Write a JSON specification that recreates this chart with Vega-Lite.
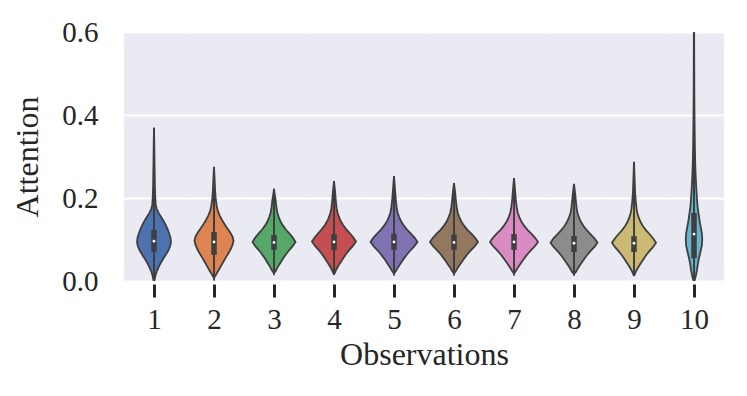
{
  "$schema": "https://vega.github.io/schema/vega-lite/v6.json",
  "padding": {"left": 11, "top": 18, "right": 20, "bottom": 5},
  "background": "white",
  "bounds": "flush",
  "config": {
    "font": "Liberation Serif",
    "view": {"fill": "#EAEAF2", "stroke": null},
    "concat": {"spacing": 0},
    "axis": {"labelFont": "Liberation Serif", "titleFont": "Liberation Serif", "labelColor": "#262626", "titleColor": "#262626", "titleFontWeight": "normal"},
    "rule": {"color": "#3f3f3f"},
    "point": {"filled": true, "color": "white", "size": 8, "opacity": 1, "strokeWidth": 0}
  },
  "data": {"values": [
    {"g":1,"k":"d","v":-0.003,"w":0},{"g":1,"k":"d","v":0.004,"w":0.7},{"g":1,"k":"d","v":0.014,"w":1.55},{"g":1,"k":"d","v":0.024,"w":2.9},{"g":1,"k":"d","v":0.034,"w":4.75},{"g":1,"k":"d","v":0.044,"w":6.8},{"g":1,"k":"d","v":0.054,"w":9.35},{"g":1,"k":"d","v":0.064,"w":11.9},{"g":1,"k":"d","v":0.074,"w":14.45},{"g":1,"k":"d","v":0.084,"w":16.15},{"g":1,"k":"d","v":0.094,"w":17},{"g":1,"k":"d","v":0.104,"w":16.5},{"g":1,"k":"d","v":0.114,"w":15.3},{"g":1,"k":"d","v":0.124,"w":13.75},{"g":1,"k":"d","v":0.134,"w":11.9},{"g":1,"k":"d","v":0.144,"w":9.7},{"g":1,"k":"d","v":0.154,"w":7.15},{"g":1,"k":"d","v":0.164,"w":4.6},{"g":1,"k":"d","v":0.174,"w":2.7},{"g":1,"k":"d","v":0.184,"w":1.7},{"g":1,"k":"d","v":0.204,"w":1.2},{"g":1,"k":"d","v":0.234,"w":0.85},{"g":1,"k":"d","v":0.29,"w":0.5},{"g":1,"k":"d","v":0.33,"w":0.3},{"g":1,"k":"d","v":0.369,"w":0},
    {"g":2,"k":"d","v":0.007,"w":0},{"g":2,"k":"d","v":0.017,"w":2.35},{"g":2,"k":"d","v":0.027,"w":4.9},{"g":2,"k":"d","v":0.037,"w":7.2},{"g":2,"k":"d","v":0.047,"w":9.55},{"g":2,"k":"d","v":0.057,"w":11.9},{"g":2,"k":"d","v":0.067,"w":14.45},{"g":2,"k":"d","v":0.077,"w":16.75},{"g":2,"k":"d","v":0.087,"w":18.5},{"g":2,"k":"d","v":0.097,"w":19.5},{"g":2,"k":"d","v":0.107,"w":18.5},{"g":2,"k":"d","v":0.117,"w":16.2},{"g":2,"k":"d","v":0.127,"w":13.25},{"g":2,"k":"d","v":0.137,"w":10.55},{"g":2,"k":"d","v":0.147,"w":8},{"g":2,"k":"d","v":0.157,"w":5.85},{"g":2,"k":"d","v":0.167,"w":4.1},{"g":2,"k":"d","v":0.177,"w":2.95},{"g":2,"k":"d","v":0.197,"w":1.75},{"g":2,"k":"d","v":0.217,"w":1.15},{"g":2,"k":"d","v":0.247,"w":0.6},{"g":2,"k":"d","v":0.275,"w":0},
    {"g":3,"k":"d","v":0.019,"w":0},{"g":3,"k":"d","v":0.024,"w":1.7},{"g":3,"k":"d","v":0.034,"w":3.85},{"g":3,"k":"d","v":0.044,"w":6.45},{"g":3,"k":"d","v":0.054,"w":9.05},{"g":3,"k":"d","v":0.064,"w":11.85},{"g":3,"k":"d","v":0.074,"w":15.05},{"g":3,"k":"d","v":0.084,"w":18.7},{"g":3,"k":"d","v":0.094,"w":21.5},{"g":3,"k":"d","v":0.104,"w":18.9},{"g":3,"k":"d","v":0.114,"w":15.5},{"g":3,"k":"d","v":0.124,"w":11.85},{"g":3,"k":"d","v":0.134,"w":8.8},{"g":3,"k":"d","v":0.144,"w":6.45},{"g":3,"k":"d","v":0.154,"w":4.75},{"g":3,"k":"d","v":0.164,"w":3.45},{"g":3,"k":"d","v":0.174,"w":2.6},{"g":3,"k":"d","v":0.194,"w":1.7},{"g":3,"k":"d","v":0.21,"w":0.65},{"g":3,"k":"d","v":0.222,"w":0},
    {"g":4,"k":"d","v":0.015,"w":0},{"g":4,"k":"d","v":0.025,"w":1.75},{"g":4,"k":"d","v":0.035,"w":3.95},{"g":4,"k":"d","v":0.045,"w":6.6},{"g":4,"k":"d","v":0.055,"w":9.25},{"g":4,"k":"d","v":0.065,"w":12.1},{"g":4,"k":"d","v":0.075,"w":15.4},{"g":4,"k":"d","v":0.085,"w":19.15},{"g":4,"k":"d","v":0.095,"w":22},{"g":4,"k":"d","v":0.105,"w":19.35},{"g":4,"k":"d","v":0.115,"w":15.85},{"g":4,"k":"d","v":0.125,"w":12.1},{"g":4,"k":"d","v":0.135,"w":9},{"g":4,"k":"d","v":0.145,"w":6.6},{"g":4,"k":"d","v":0.155,"w":4.85},{"g":4,"k":"d","v":0.165,"w":3.5},{"g":4,"k":"d","v":0.175,"w":2.65},{"g":4,"k":"d","v":0.195,"w":1.75},{"g":4,"k":"d","v":0.215,"w":1.1},{"g":4,"k":"d","v":0.228,"w":0.55},{"g":4,"k":"d","v":0.241,"w":0},
    {"g":5,"k":"d","v":0.018,"w":0},{"g":5,"k":"d","v":0.024,"w":1.9},{"g":5,"k":"d","v":0.034,"w":4.25},{"g":5,"k":"d","v":0.044,"w":7.05},{"g":5,"k":"d","v":0.054,"w":9.85},{"g":5,"k":"d","v":0.064,"w":12.95},{"g":5,"k":"d","v":0.074,"w":16.45},{"g":5,"k":"d","v":0.084,"w":20.45},{"g":5,"k":"d","v":0.094,"w":23.5},{"g":5,"k":"d","v":0.104,"w":20.7},{"g":5,"k":"d","v":0.114,"w":16.9},{"g":5,"k":"d","v":0.124,"w":12.95},{"g":5,"k":"d","v":0.134,"w":9.65},{"g":5,"k":"d","v":0.144,"w":7.05},{"g":5,"k":"d","v":0.154,"w":5.15},{"g":5,"k":"d","v":0.164,"w":3.75},{"g":5,"k":"d","v":0.174,"w":2.8},{"g":5,"k":"d","v":0.194,"w":1.9},{"g":5,"k":"d","v":0.214,"w":1.2},{"g":5,"k":"d","v":0.235,"w":0.6},{"g":5,"k":"d","v":0.253,"w":0},
    {"g":6,"k":"d","v":0.018,"w":0},{"g":6,"k":"d","v":0.024,"w":1.9},{"g":6,"k":"d","v":0.034,"w":4.3},{"g":6,"k":"d","v":0.044,"w":7.2},{"g":6,"k":"d","v":0.054,"w":10.1},{"g":6,"k":"d","v":0.064,"w":13.2},{"g":6,"k":"d","v":0.074,"w":16.8},{"g":6,"k":"d","v":0.084,"w":20.9},{"g":6,"k":"d","v":0.094,"w":24},{"g":6,"k":"d","v":0.104,"w":21.1},{"g":6,"k":"d","v":0.114,"w":17.3},{"g":6,"k":"d","v":0.124,"w":13.2},{"g":6,"k":"d","v":0.134,"w":9.85},{"g":6,"k":"d","v":0.144,"w":7.2},{"g":6,"k":"d","v":0.154,"w":5.3},{"g":6,"k":"d","v":0.164,"w":3.85},{"g":6,"k":"d","v":0.174,"w":2.9},{"g":6,"k":"d","v":0.194,"w":1.9},{"g":6,"k":"d","v":0.214,"w":1.1},{"g":6,"k":"d","v":0.236,"w":0},
    {"g":7,"k":"d","v":0.018,"w":0},{"g":7,"k":"d","v":0.024,"w":1.9},{"g":7,"k":"d","v":0.034,"w":4.3},{"g":7,"k":"d","v":0.044,"w":7.2},{"g":7,"k":"d","v":0.054,"w":10.1},{"g":7,"k":"d","v":0.064,"w":13.2},{"g":7,"k":"d","v":0.074,"w":16.8},{"g":7,"k":"d","v":0.084,"w":20.9},{"g":7,"k":"d","v":0.094,"w":24},{"g":7,"k":"d","v":0.104,"w":21.1},{"g":7,"k":"d","v":0.114,"w":17.3},{"g":7,"k":"d","v":0.124,"w":13.2},{"g":7,"k":"d","v":0.134,"w":9.85},{"g":7,"k":"d","v":0.144,"w":7.2},{"g":7,"k":"d","v":0.154,"w":5.3},{"g":7,"k":"d","v":0.164,"w":3.85},{"g":7,"k":"d","v":0.174,"w":2.9},{"g":7,"k":"d","v":0.194,"w":1.9},{"g":7,"k":"d","v":0.214,"w":1.2},{"g":7,"k":"d","v":0.232,"w":0.6},{"g":7,"k":"d","v":0.248,"w":0},
    {"g":8,"k":"d","v":0.017,"w":0},{"g":8,"k":"d","v":0.022,"w":1.9},{"g":8,"k":"d","v":0.032,"w":4.25},{"g":8,"k":"d","v":0.042,"w":7.05},{"g":8,"k":"d","v":0.052,"w":9.85},{"g":8,"k":"d","v":0.062,"w":12.95},{"g":8,"k":"d","v":0.072,"w":16.45},{"g":8,"k":"d","v":0.082,"w":20.45},{"g":8,"k":"d","v":0.092,"w":23.5},{"g":8,"k":"d","v":0.102,"w":20.7},{"g":8,"k":"d","v":0.112,"w":16.9},{"g":8,"k":"d","v":0.122,"w":12.95},{"g":8,"k":"d","v":0.132,"w":9.65},{"g":8,"k":"d","v":0.142,"w":7.05},{"g":8,"k":"d","v":0.152,"w":5.15},{"g":8,"k":"d","v":0.162,"w":3.75},{"g":8,"k":"d","v":0.172,"w":2.8},{"g":8,"k":"d","v":0.192,"w":1.9},{"g":8,"k":"d","v":0.212,"w":1.1},{"g":8,"k":"d","v":0.234,"w":0},
    {"g":9,"k":"d","v":0.012,"w":0},{"g":9,"k":"d","v":0.022,"w":1.75},{"g":9,"k":"d","v":0.032,"w":3.95},{"g":9,"k":"d","v":0.042,"w":6.6},{"g":9,"k":"d","v":0.052,"w":9.25},{"g":9,"k":"d","v":0.062,"w":12.1},{"g":9,"k":"d","v":0.072,"w":15.4},{"g":9,"k":"d","v":0.082,"w":19.15},{"g":9,"k":"d","v":0.092,"w":22},{"g":9,"k":"d","v":0.102,"w":19.35},{"g":9,"k":"d","v":0.112,"w":15.85},{"g":9,"k":"d","v":0.122,"w":12.1},{"g":9,"k":"d","v":0.132,"w":9},{"g":9,"k":"d","v":0.142,"w":6.6},{"g":9,"k":"d","v":0.152,"w":4.85},{"g":9,"k":"d","v":0.162,"w":3.5},{"g":9,"k":"d","v":0.172,"w":2.65},{"g":9,"k":"d","v":0.192,"w":1.75},{"g":9,"k":"d","v":0.212,"w":1.1},{"g":9,"k":"d","v":0.25,"w":0.55},{"g":9,"k":"d","v":0.287,"w":0},
    {"g":10,"k":"d","v":-0.003,"w":0},{"g":10,"k":"d","v":0.005,"w":1},{"g":10,"k":"d","v":0.015,"w":2.05},{"g":10,"k":"d","v":0.025,"w":2.9},{"g":10,"k":"d","v":0.04,"w":3.8},{"g":10,"k":"d","v":0.055,"w":4.95},{"g":10,"k":"d","v":0.07,"w":6.45},{"g":10,"k":"d","v":0.085,"w":7.85},{"g":10,"k":"d","v":0.1,"w":8.25},{"g":10,"k":"d","v":0.115,"w":7.85},{"g":10,"k":"d","v":0.13,"w":6.75},{"g":10,"k":"d","v":0.145,"w":5.6},{"g":10,"k":"d","v":0.16,"w":4.7},{"g":10,"k":"d","v":0.18,"w":3.55},{"g":10,"k":"d","v":0.2,"w":2.9},{"g":10,"k":"d","v":0.23,"w":2.15},{"g":10,"k":"d","v":0.26,"w":1.55},{"g":10,"k":"d","v":0.29,"w":1.15},{"g":10,"k":"d","v":0.33,"w":0.85},{"g":10,"k":"d","v":0.38,"w":0.6},{"g":10,"k":"d","v":0.45,"w":0.35},{"g":10,"k":"d","v":0.52,"w":0.25},{"g":10,"k":"d","v":0.6,"w":0.15},{"g":10,"k":"d","v":0.65,"w":0},
    {"g":1,"k":"s","q1":0.07,"q3":0.123,"med":0.096,"lo":0.0,"hi":0.2},
    {"g":2,"k":"s","q1":0.063,"q3":0.118,"med":0.094,"lo":0.007,"hi":0.2},
    {"g":3,"k":"s","q1":0.075,"q3":0.111,"med":0.093,"lo":0.021,"hi":0.165},
    {"g":4,"k":"s","q1":0.075,"q3":0.113,"med":0.094,"lo":0.02,"hi":0.17},
    {"g":5,"k":"s","q1":0.075,"q3":0.114,"med":0.094,"lo":0.02,"hi":0.172},
    {"g":6,"k":"s","q1":0.075,"q3":0.112,"med":0.093,"lo":0.02,"hi":0.168},
    {"g":7,"k":"s","q1":0.075,"q3":0.113,"med":0.094,"lo":0.02,"hi":0.17},
    {"g":8,"k":"s","q1":0.07,"q3":0.108,"med":0.091,"lo":0.017,"hi":0.165},
    {"g":9,"k":"s","q1":0.07,"q3":0.108,"med":0.091,"lo":0.013,"hi":0.165},
    {"g":10,"k":"s","q1":0.055,"q3":0.164,"med":0.113,"lo":0.0,"hi":0.6}
  ]},
  "hconcat": [
    {"width": 60, "height": 249, "transform": [{"filter": {"field": "g", "equal": 1}}], "resolve": {"scale": {"x": "independent"}, "axis": {"x": "independent"}},
     "layer": [
      {"transform": [{"filter": {"field": "k", "equal": "d"}}], "mark": {"type": "area", "orient": "horizontal", "clip": true, "stroke": "#3f3f3f", "strokeWidth": 1.8, "opacity": 1, "fill": "#4C72B0"},
       "encoding": {"y": {"field": "v", "type": "quantitative", "scale": {"domain": [0, 0.6], "nice": false, "zero": false}, "axis": {"title": "Attention", "values": [0, 0.2, 0.4, 0.6], "format": ".1f", "ticks": false, "domain": false, "grid": true, "gridColor": "white", "gridWidth": 1.8, "labelFontSize": 29, "titleFontSize": 32, "labelPadding": 26, "titlePadding": 17}},
        "x": {"field": "w", "type": "quantitative", "scale": {"domain": [-30, 30], "nice": false, "zero": false}, "axis": {"title": null, "values": [0], "labelExpr": "'1'", "labelFontSize": 29, "labelPadding": 8, "domain": false, "grid": false, "tickSize": 13, "tickWidth": 3, "tickColor": "#262626", "offset": 3}},
        "x2": {"datum": 0}}},
      {"transform": [{"filter": {"field": "k", "equal": "d"}}], "mark": {"type": "area", "orient": "horizontal", "clip": true, "stroke": "#3f3f3f", "strokeWidth": 1.8, "opacity": 1, "fill": "#4C72B0"},
       "encoding": {"y": {"field": "v", "type": "quantitative"}, "x": {"field": "w", "type": "quantitative", "scale": {"domain": [-30, 30], "nice": false, "zero": false, "reverse": true}, "axis": null}, "x2": {"datum": 0}}},
      {"transform": [{"filter": {"field": "k", "equal": "s"}}], "mark": {"type": "rule", "strokeWidth": 1.5, "clip": true},
       "encoding": {"x": {"datum": 0, "type": "quantitative", "scale": {"domain": [-30, 30]}, "axis": null}, "y": {"field": "lo", "type": "quantitative"}, "y2": {"field": "hi"}}},
      {"transform": [{"filter": {"field": "k", "equal": "s"}}], "mark": {"type": "rule", "strokeWidth": 5.5},
       "encoding": {"x": {"datum": 0, "type": "quantitative", "scale": {"domain": [-30, 30]}, "axis": null}, "y": {"field": "q1", "type": "quantitative"}, "y2": {"field": "q3"}}},
      {"transform": [{"filter": {"field": "k", "equal": "s"}}], "mark": {"type": "point"},
       "encoding": {"x": {"datum": 0, "type": "quantitative", "scale": {"domain": [-30, 30]}, "axis": null}, "y": {"field": "med", "type": "quantitative"}}}
     ]},
    {"width": 60, "height": 249, "transform": [{"filter": {"field": "g", "equal": 2}}], "resolve": {"scale": {"x": "independent"}, "axis": {"x": "independent"}},
     "layer": [
      {"transform": [{"filter": {"field": "k", "equal": "d"}}], "mark": {"type": "area", "orient": "horizontal", "clip": true, "stroke": "#3f3f3f", "strokeWidth": 1.8, "opacity": 1, "fill": "#DD8452"},
       "encoding": {"y": {"field": "v", "type": "quantitative", "scale": {"domain": [0, 0.6], "nice": false, "zero": false}, "axis": {"title": null, "labels": false, "values": [0, 0.2, 0.4, 0.6], "ticks": false, "domain": false, "grid": true, "gridColor": "white", "gridWidth": 1.8}},
        "x": {"field": "w", "type": "quantitative", "scale": {"domain": [-30, 30], "nice": false, "zero": false}, "axis": {"title": null, "values": [0], "labelExpr": "'2'", "labelFontSize": 29, "labelPadding": 8, "domain": false, "grid": false, "tickSize": 13, "tickWidth": 3, "tickColor": "#262626", "offset": 3}},
        "x2": {"datum": 0}}},
      {"transform": [{"filter": {"field": "k", "equal": "d"}}], "mark": {"type": "area", "orient": "horizontal", "clip": true, "stroke": "#3f3f3f", "strokeWidth": 1.8, "opacity": 1, "fill": "#DD8452"},
       "encoding": {"y": {"field": "v", "type": "quantitative"}, "x": {"field": "w", "type": "quantitative", "scale": {"domain": [-30, 30], "nice": false, "zero": false, "reverse": true}, "axis": null}, "x2": {"datum": 0}}},
      {"transform": [{"filter": {"field": "k", "equal": "s"}}], "mark": {"type": "rule", "strokeWidth": 1.5, "clip": true},
       "encoding": {"x": {"datum": 0, "type": "quantitative", "scale": {"domain": [-30, 30]}, "axis": null}, "y": {"field": "lo", "type": "quantitative"}, "y2": {"field": "hi"}}},
      {"transform": [{"filter": {"field": "k", "equal": "s"}}], "mark": {"type": "rule", "strokeWidth": 5.5},
       "encoding": {"x": {"datum": 0, "type": "quantitative", "scale": {"domain": [-30, 30]}, "axis": null}, "y": {"field": "q1", "type": "quantitative"}, "y2": {"field": "q3"}}},
      {"transform": [{"filter": {"field": "k", "equal": "s"}}], "mark": {"type": "point"},
       "encoding": {"x": {"datum": 0, "type": "quantitative", "scale": {"domain": [-30, 30]}, "axis": null}, "y": {"field": "med", "type": "quantitative"}}}
     ]},
    {"width": 60, "height": 249, "transform": [{"filter": {"field": "g", "equal": 3}}], "resolve": {"scale": {"x": "independent"}, "axis": {"x": "independent"}},
     "layer": [
      {"transform": [{"filter": {"field": "k", "equal": "d"}}], "mark": {"type": "area", "orient": "horizontal", "clip": true, "stroke": "#3f3f3f", "strokeWidth": 1.8, "opacity": 1, "fill": "#55A868"},
       "encoding": {"y": {"field": "v", "type": "quantitative", "scale": {"domain": [0, 0.6], "nice": false, "zero": false}, "axis": {"title": null, "labels": false, "values": [0, 0.2, 0.4, 0.6], "ticks": false, "domain": false, "grid": true, "gridColor": "white", "gridWidth": 1.8}},
        "x": {"field": "w", "type": "quantitative", "scale": {"domain": [-30, 30], "nice": false, "zero": false}, "axis": {"title": null, "values": [0], "labelExpr": "'3'", "labelFontSize": 29, "labelPadding": 8, "domain": false, "grid": false, "tickSize": 13, "tickWidth": 3, "tickColor": "#262626", "offset": 3}},
        "x2": {"datum": 0}}},
      {"transform": [{"filter": {"field": "k", "equal": "d"}}], "mark": {"type": "area", "orient": "horizontal", "clip": true, "stroke": "#3f3f3f", "strokeWidth": 1.8, "opacity": 1, "fill": "#55A868"},
       "encoding": {"y": {"field": "v", "type": "quantitative"}, "x": {"field": "w", "type": "quantitative", "scale": {"domain": [-30, 30], "nice": false, "zero": false, "reverse": true}, "axis": null}, "x2": {"datum": 0}}},
      {"transform": [{"filter": {"field": "k", "equal": "s"}}], "mark": {"type": "rule", "strokeWidth": 1.5, "clip": true},
       "encoding": {"x": {"datum": 0, "type": "quantitative", "scale": {"domain": [-30, 30]}, "axis": null}, "y": {"field": "lo", "type": "quantitative"}, "y2": {"field": "hi"}}},
      {"transform": [{"filter": {"field": "k", "equal": "s"}}], "mark": {"type": "rule", "strokeWidth": 5.5},
       "encoding": {"x": {"datum": 0, "type": "quantitative", "scale": {"domain": [-30, 30]}, "axis": null}, "y": {"field": "q1", "type": "quantitative"}, "y2": {"field": "q3"}}},
      {"transform": [{"filter": {"field": "k", "equal": "s"}}], "mark": {"type": "point"},
       "encoding": {"x": {"datum": 0, "type": "quantitative", "scale": {"domain": [-30, 30]}, "axis": null}, "y": {"field": "med", "type": "quantitative"}}}
     ]},
    {"width": 60, "height": 249, "transform": [{"filter": {"field": "g", "equal": 4}}], "resolve": {"scale": {"x": "independent"}, "axis": {"x": "independent"}},
     "layer": [
      {"transform": [{"filter": {"field": "k", "equal": "d"}}], "mark": {"type": "area", "orient": "horizontal", "clip": true, "stroke": "#3f3f3f", "strokeWidth": 1.8, "opacity": 1, "fill": "#C44E52"},
       "encoding": {"y": {"field": "v", "type": "quantitative", "scale": {"domain": [0, 0.6], "nice": false, "zero": false}, "axis": {"title": null, "labels": false, "values": [0, 0.2, 0.4, 0.6], "ticks": false, "domain": false, "grid": true, "gridColor": "white", "gridWidth": 1.8}},
        "x": {"field": "w", "type": "quantitative", "scale": {"domain": [-30, 30], "nice": false, "zero": false}, "axis": {"title": null, "values": [0], "labelExpr": "'4'", "labelFontSize": 29, "labelPadding": 8, "domain": false, "grid": false, "tickSize": 13, "tickWidth": 3, "tickColor": "#262626", "offset": 3}},
        "x2": {"datum": 0}}},
      {"transform": [{"filter": {"field": "k", "equal": "d"}}], "mark": {"type": "area", "orient": "horizontal", "clip": true, "stroke": "#3f3f3f", "strokeWidth": 1.8, "opacity": 1, "fill": "#C44E52"},
       "encoding": {"y": {"field": "v", "type": "quantitative"}, "x": {"field": "w", "type": "quantitative", "scale": {"domain": [-30, 30], "nice": false, "zero": false, "reverse": true}, "axis": null}, "x2": {"datum": 0}}},
      {"transform": [{"filter": {"field": "k", "equal": "s"}}], "mark": {"type": "rule", "strokeWidth": 1.5, "clip": true},
       "encoding": {"x": {"datum": 0, "type": "quantitative", "scale": {"domain": [-30, 30]}, "axis": null}, "y": {"field": "lo", "type": "quantitative"}, "y2": {"field": "hi"}}},
      {"transform": [{"filter": {"field": "k", "equal": "s"}}], "mark": {"type": "rule", "strokeWidth": 5.5},
       "encoding": {"x": {"datum": 0, "type": "quantitative", "scale": {"domain": [-30, 30]}, "axis": null}, "y": {"field": "q1", "type": "quantitative"}, "y2": {"field": "q3"}}},
      {"transform": [{"filter": {"field": "k", "equal": "s"}}], "mark": {"type": "point"},
       "encoding": {"x": {"datum": 0, "type": "quantitative", "scale": {"domain": [-30, 30]}, "axis": null}, "y": {"field": "med", "type": "quantitative"}}}
     ]},
    {"width": 60, "height": 249, "transform": [{"filter": {"field": "g", "equal": 5}}], "resolve": {"scale": {"x": "independent"}, "axis": {"x": "independent"}},
     "layer": [
      {"transform": [{"filter": {"field": "k", "equal": "d"}}], "mark": {"type": "area", "orient": "horizontal", "clip": true, "stroke": "#3f3f3f", "strokeWidth": 1.8, "opacity": 1, "fill": "#8172B3"},
       "encoding": {"y": {"field": "v", "type": "quantitative", "scale": {"domain": [0, 0.6], "nice": false, "zero": false}, "axis": {"title": null, "labels": false, "values": [0, 0.2, 0.4, 0.6], "ticks": false, "domain": false, "grid": true, "gridColor": "white", "gridWidth": 1.8}},
        "x": {"field": "w", "type": "quantitative", "scale": {"domain": [-30, 30], "nice": false, "zero": false}, "axis": {"title": "Observations", "titleAnchor": "end", "titleAlign": "center", "titleFontSize": 32, "titlePadding": 5, "values": [0], "labelExpr": "'5'", "labelFontSize": 29, "labelPadding": 8, "domain": false, "grid": false, "tickSize": 13, "tickWidth": 3, "tickColor": "#262626", "offset": 3}},
        "x2": {"datum": 0}}},
      {"transform": [{"filter": {"field": "k", "equal": "d"}}], "mark": {"type": "area", "orient": "horizontal", "clip": true, "stroke": "#3f3f3f", "strokeWidth": 1.8, "opacity": 1, "fill": "#8172B3"},
       "encoding": {"y": {"field": "v", "type": "quantitative"}, "x": {"field": "w", "type": "quantitative", "scale": {"domain": [-30, 30], "nice": false, "zero": false, "reverse": true}, "axis": null}, "x2": {"datum": 0}}},
      {"transform": [{"filter": {"field": "k", "equal": "s"}}], "mark": {"type": "rule", "strokeWidth": 1.5, "clip": true},
       "encoding": {"x": {"datum": 0, "type": "quantitative", "scale": {"domain": [-30, 30]}, "axis": null}, "y": {"field": "lo", "type": "quantitative"}, "y2": {"field": "hi"}}},
      {"transform": [{"filter": {"field": "k", "equal": "s"}}], "mark": {"type": "rule", "strokeWidth": 5.5},
       "encoding": {"x": {"datum": 0, "type": "quantitative", "scale": {"domain": [-30, 30]}, "axis": null}, "y": {"field": "q1", "type": "quantitative"}, "y2": {"field": "q3"}}},
      {"transform": [{"filter": {"field": "k", "equal": "s"}}], "mark": {"type": "point"},
       "encoding": {"x": {"datum": 0, "type": "quantitative", "scale": {"domain": [-30, 30]}, "axis": null}, "y": {"field": "med", "type": "quantitative"}}}
     ]},
    {"width": 60, "height": 249, "transform": [{"filter": {"field": "g", "equal": 6}}], "resolve": {"scale": {"x": "independent"}, "axis": {"x": "independent"}},
     "layer": [
      {"transform": [{"filter": {"field": "k", "equal": "d"}}], "mark": {"type": "area", "orient": "horizontal", "clip": true, "stroke": "#3f3f3f", "strokeWidth": 1.8, "opacity": 1, "fill": "#937860"},
       "encoding": {"y": {"field": "v", "type": "quantitative", "scale": {"domain": [0, 0.6], "nice": false, "zero": false}, "axis": {"title": null, "labels": false, "values": [0, 0.2, 0.4, 0.6], "ticks": false, "domain": false, "grid": true, "gridColor": "white", "gridWidth": 1.8}},
        "x": {"field": "w", "type": "quantitative", "scale": {"domain": [-30, 30], "nice": false, "zero": false}, "axis": {"title": null, "values": [0], "labelExpr": "'6'", "labelFontSize": 29, "labelPadding": 8, "domain": false, "grid": false, "tickSize": 13, "tickWidth": 3, "tickColor": "#262626", "offset": 3}},
        "x2": {"datum": 0}}},
      {"transform": [{"filter": {"field": "k", "equal": "d"}}], "mark": {"type": "area", "orient": "horizontal", "clip": true, "stroke": "#3f3f3f", "strokeWidth": 1.8, "opacity": 1, "fill": "#937860"},
       "encoding": {"y": {"field": "v", "type": "quantitative"}, "x": {"field": "w", "type": "quantitative", "scale": {"domain": [-30, 30], "nice": false, "zero": false, "reverse": true}, "axis": null}, "x2": {"datum": 0}}},
      {"transform": [{"filter": {"field": "k", "equal": "s"}}], "mark": {"type": "rule", "strokeWidth": 1.5, "clip": true},
       "encoding": {"x": {"datum": 0, "type": "quantitative", "scale": {"domain": [-30, 30]}, "axis": null}, "y": {"field": "lo", "type": "quantitative"}, "y2": {"field": "hi"}}},
      {"transform": [{"filter": {"field": "k", "equal": "s"}}], "mark": {"type": "rule", "strokeWidth": 5.5},
       "encoding": {"x": {"datum": 0, "type": "quantitative", "scale": {"domain": [-30, 30]}, "axis": null}, "y": {"field": "q1", "type": "quantitative"}, "y2": {"field": "q3"}}},
      {"transform": [{"filter": {"field": "k", "equal": "s"}}], "mark": {"type": "point"},
       "encoding": {"x": {"datum": 0, "type": "quantitative", "scale": {"domain": [-30, 30]}, "axis": null}, "y": {"field": "med", "type": "quantitative"}}}
     ]},
    {"width": 60, "height": 249, "transform": [{"filter": {"field": "g", "equal": 7}}], "resolve": {"scale": {"x": "independent"}, "axis": {"x": "independent"}},
     "layer": [
      {"transform": [{"filter": {"field": "k", "equal": "d"}}], "mark": {"type": "area", "orient": "horizontal", "clip": true, "stroke": "#3f3f3f", "strokeWidth": 1.8, "opacity": 1, "fill": "#DA8BC3"},
       "encoding": {"y": {"field": "v", "type": "quantitative", "scale": {"domain": [0, 0.6], "nice": false, "zero": false}, "axis": {"title": null, "labels": false, "values": [0, 0.2, 0.4, 0.6], "ticks": false, "domain": false, "grid": true, "gridColor": "white", "gridWidth": 1.8}},
        "x": {"field": "w", "type": "quantitative", "scale": {"domain": [-30, 30], "nice": false, "zero": false}, "axis": {"title": null, "values": [0], "labelExpr": "'7'", "labelFontSize": 29, "labelPadding": 8, "domain": false, "grid": false, "tickSize": 13, "tickWidth": 3, "tickColor": "#262626", "offset": 3}},
        "x2": {"datum": 0}}},
      {"transform": [{"filter": {"field": "k", "equal": "d"}}], "mark": {"type": "area", "orient": "horizontal", "clip": true, "stroke": "#3f3f3f", "strokeWidth": 1.8, "opacity": 1, "fill": "#DA8BC3"},
       "encoding": {"y": {"field": "v", "type": "quantitative"}, "x": {"field": "w", "type": "quantitative", "scale": {"domain": [-30, 30], "nice": false, "zero": false, "reverse": true}, "axis": null}, "x2": {"datum": 0}}},
      {"transform": [{"filter": {"field": "k", "equal": "s"}}], "mark": {"type": "rule", "strokeWidth": 1.5, "clip": true},
       "encoding": {"x": {"datum": 0, "type": "quantitative", "scale": {"domain": [-30, 30]}, "axis": null}, "y": {"field": "lo", "type": "quantitative"}, "y2": {"field": "hi"}}},
      {"transform": [{"filter": {"field": "k", "equal": "s"}}], "mark": {"type": "rule", "strokeWidth": 5.5},
       "encoding": {"x": {"datum": 0, "type": "quantitative", "scale": {"domain": [-30, 30]}, "axis": null}, "y": {"field": "q1", "type": "quantitative"}, "y2": {"field": "q3"}}},
      {"transform": [{"filter": {"field": "k", "equal": "s"}}], "mark": {"type": "point"},
       "encoding": {"x": {"datum": 0, "type": "quantitative", "scale": {"domain": [-30, 30]}, "axis": null}, "y": {"field": "med", "type": "quantitative"}}}
     ]},
    {"width": 60, "height": 249, "transform": [{"filter": {"field": "g", "equal": 8}}], "resolve": {"scale": {"x": "independent"}, "axis": {"x": "independent"}},
     "layer": [
      {"transform": [{"filter": {"field": "k", "equal": "d"}}], "mark": {"type": "area", "orient": "horizontal", "clip": true, "stroke": "#3f3f3f", "strokeWidth": 1.8, "opacity": 1, "fill": "#8C8C8C"},
       "encoding": {"y": {"field": "v", "type": "quantitative", "scale": {"domain": [0, 0.6], "nice": false, "zero": false}, "axis": {"title": null, "labels": false, "values": [0, 0.2, 0.4, 0.6], "ticks": false, "domain": false, "grid": true, "gridColor": "white", "gridWidth": 1.8}},
        "x": {"field": "w", "type": "quantitative", "scale": {"domain": [-30, 30], "nice": false, "zero": false}, "axis": {"title": null, "values": [0], "labelExpr": "'8'", "labelFontSize": 29, "labelPadding": 8, "domain": false, "grid": false, "tickSize": 13, "tickWidth": 3, "tickColor": "#262626", "offset": 3}},
        "x2": {"datum": 0}}},
      {"transform": [{"filter": {"field": "k", "equal": "d"}}], "mark": {"type": "area", "orient": "horizontal", "clip": true, "stroke": "#3f3f3f", "strokeWidth": 1.8, "opacity": 1, "fill": "#8C8C8C"},
       "encoding": {"y": {"field": "v", "type": "quantitative"}, "x": {"field": "w", "type": "quantitative", "scale": {"domain": [-30, 30], "nice": false, "zero": false, "reverse": true}, "axis": null}, "x2": {"datum": 0}}},
      {"transform": [{"filter": {"field": "k", "equal": "s"}}], "mark": {"type": "rule", "strokeWidth": 1.5, "clip": true},
       "encoding": {"x": {"datum": 0, "type": "quantitative", "scale": {"domain": [-30, 30]}, "axis": null}, "y": {"field": "lo", "type": "quantitative"}, "y2": {"field": "hi"}}},
      {"transform": [{"filter": {"field": "k", "equal": "s"}}], "mark": {"type": "rule", "strokeWidth": 5.5},
       "encoding": {"x": {"datum": 0, "type": "quantitative", "scale": {"domain": [-30, 30]}, "axis": null}, "y": {"field": "q1", "type": "quantitative"}, "y2": {"field": "q3"}}},
      {"transform": [{"filter": {"field": "k", "equal": "s"}}], "mark": {"type": "point"},
       "encoding": {"x": {"datum": 0, "type": "quantitative", "scale": {"domain": [-30, 30]}, "axis": null}, "y": {"field": "med", "type": "quantitative"}}}
     ]},
    {"width": 60, "height": 249, "transform": [{"filter": {"field": "g", "equal": 9}}], "resolve": {"scale": {"x": "independent"}, "axis": {"x": "independent"}},
     "layer": [
      {"transform": [{"filter": {"field": "k", "equal": "d"}}], "mark": {"type": "area", "orient": "horizontal", "clip": true, "stroke": "#3f3f3f", "strokeWidth": 1.8, "opacity": 1, "fill": "#CCB974"},
       "encoding": {"y": {"field": "v", "type": "quantitative", "scale": {"domain": [0, 0.6], "nice": false, "zero": false}, "axis": {"title": null, "labels": false, "values": [0, 0.2, 0.4, 0.6], "ticks": false, "domain": false, "grid": true, "gridColor": "white", "gridWidth": 1.8}},
        "x": {"field": "w", "type": "quantitative", "scale": {"domain": [-30, 30], "nice": false, "zero": false}, "axis": {"title": null, "values": [0], "labelExpr": "'9'", "labelFontSize": 29, "labelPadding": 8, "domain": false, "grid": false, "tickSize": 13, "tickWidth": 3, "tickColor": "#262626", "offset": 3}},
        "x2": {"datum": 0}}},
      {"transform": [{"filter": {"field": "k", "equal": "d"}}], "mark": {"type": "area", "orient": "horizontal", "clip": true, "stroke": "#3f3f3f", "strokeWidth": 1.8, "opacity": 1, "fill": "#CCB974"},
       "encoding": {"y": {"field": "v", "type": "quantitative"}, "x": {"field": "w", "type": "quantitative", "scale": {"domain": [-30, 30], "nice": false, "zero": false, "reverse": true}, "axis": null}, "x2": {"datum": 0}}},
      {"transform": [{"filter": {"field": "k", "equal": "s"}}], "mark": {"type": "rule", "strokeWidth": 1.5, "clip": true},
       "encoding": {"x": {"datum": 0, "type": "quantitative", "scale": {"domain": [-30, 30]}, "axis": null}, "y": {"field": "lo", "type": "quantitative"}, "y2": {"field": "hi"}}},
      {"transform": [{"filter": {"field": "k", "equal": "s"}}], "mark": {"type": "rule", "strokeWidth": 5.5},
       "encoding": {"x": {"datum": 0, "type": "quantitative", "scale": {"domain": [-30, 30]}, "axis": null}, "y": {"field": "q1", "type": "quantitative"}, "y2": {"field": "q3"}}},
      {"transform": [{"filter": {"field": "k", "equal": "s"}}], "mark": {"type": "point"},
       "encoding": {"x": {"datum": 0, "type": "quantitative", "scale": {"domain": [-30, 30]}, "axis": null}, "y": {"field": "med", "type": "quantitative"}}}
     ]},
    {"width": 60, "height": 249, "transform": [{"filter": {"field": "g", "equal": 10}}], "resolve": {"scale": {"x": "independent"}, "axis": {"x": "independent"}},
     "layer": [
      {"transform": [{"filter": {"field": "k", "equal": "d"}}], "mark": {"type": "area", "orient": "horizontal", "clip": true, "stroke": "#3f3f3f", "strokeWidth": 1.8, "opacity": 1, "fill": "#64B5CD"},
       "encoding": {"y": {"field": "v", "type": "quantitative", "scale": {"domain": [0, 0.6], "nice": false, "zero": false}, "axis": {"title": null, "labels": false, "values": [0, 0.2, 0.4, 0.6], "ticks": false, "domain": false, "grid": true, "gridColor": "white", "gridWidth": 1.8}},
        "x": {"field": "w", "type": "quantitative", "scale": {"domain": [-30, 30], "nice": false, "zero": false}, "axis": {"title": null, "values": [0], "labelExpr": "'10'", "labelFontSize": 29, "labelPadding": 8, "domain": false, "grid": false, "tickSize": 13, "tickWidth": 3, "tickColor": "#262626", "offset": 3}},
        "x2": {"datum": 0}}},
      {"transform": [{"filter": {"field": "k", "equal": "d"}}], "mark": {"type": "area", "orient": "horizontal", "clip": true, "stroke": "#3f3f3f", "strokeWidth": 1.8, "opacity": 1, "fill": "#64B5CD"},
       "encoding": {"y": {"field": "v", "type": "quantitative"}, "x": {"field": "w", "type": "quantitative", "scale": {"domain": [-30, 30], "nice": false, "zero": false, "reverse": true}, "axis": null}, "x2": {"datum": 0}}},
      {"transform": [{"filter": {"field": "k", "equal": "s"}}], "mark": {"type": "rule", "strokeWidth": 1.5, "clip": true},
       "encoding": {"x": {"datum": 0, "type": "quantitative", "scale": {"domain": [-30, 30]}, "axis": null}, "y": {"field": "lo", "type": "quantitative"}, "y2": {"field": "hi"}}},
      {"transform": [{"filter": {"field": "k", "equal": "s"}}], "mark": {"type": "rule", "strokeWidth": 5.5},
       "encoding": {"x": {"datum": 0, "type": "quantitative", "scale": {"domain": [-30, 30]}, "axis": null}, "y": {"field": "q1", "type": "quantitative"}, "y2": {"field": "q3"}}},
      {"transform": [{"filter": {"field": "k", "equal": "s"}}], "mark": {"type": "point"},
       "encoding": {"x": {"datum": 0, "type": "quantitative", "scale": {"domain": [-30, 30]}, "axis": null}, "y": {"field": "med", "type": "quantitative"}}}
     ]}
  ]
}
